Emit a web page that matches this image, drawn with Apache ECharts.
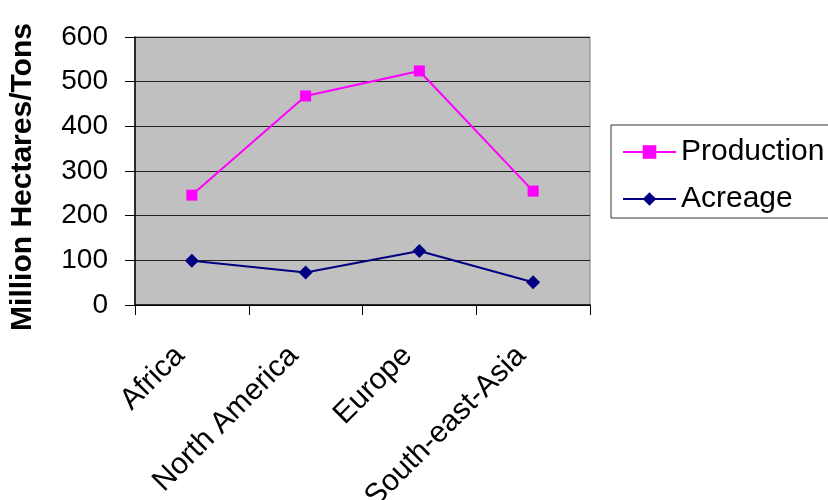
<!DOCTYPE html>
<html>
<head>
<meta charset="utf-8">
<script src="https://cdn.jsdelivr.net/npm/echarts@6/dist/echarts.min.js"></script>
<style>
html,body{margin:0;padding:0;background:#fff;}
#chart{width:828px;height:500px;}
</style>
</head>
<body>
<div id="chart"></div>
<script>
const categories = ['Africa', 'North America', 'Europe', 'South-east-Asia'];
const production = [246, 468, 524, 255];
const acreage = [99, 73, 121, 51];
const yTicks = { min: 0, max: 600, interval: 100 };

const chart = echarts.init(document.getElementById('chart'));
const font = 'Liberation Sans, Arial, sans-serif';
chart.setOption({
  animation: false,
  backgroundColor: '#ffffff',
  grid: {
    left: 135, right: 238, top: 37, bottom: 195,
    containLabel: false, outerBoundsMode: 'none',
    show: true, backgroundColor: '#c0c0c0', borderColor: '#808080', borderWidth: 1
  },
  legend: {
    left: 611, top: 125,
    orient: 'vertical',
    padding: [11, 40, 3, 11],
    itemGap: 15,
    itemWidth: 53, itemHeight: 17,
    borderColor: '#333', borderWidth: 1,
    backgroundColor: '#fff',
    textStyle: { fontFamily: font, fontSize: 30, color: '#000', lineHeight: 32 },
    data: ['Production', 'Acreage']
  },
  xAxis: {
    type: 'category',
    data: categories,
    boundaryGap: true,
    axisLine: { lineStyle: { color: '#000', width: 1.5 } },
    axisTick: { show: true, length: 10, lineStyle: { color: '#000' } },
    axisLabel: {
      rotate: 45, fontFamily: font, fontSize: 30, color: '#000',
      margin: 34, padding: [0, 17, 0, 0], interval: 0
    },
    splitLine: { show: false }
  },
  yAxis: {
    type: 'value',
    min: yTicks.min, max: yTicks.max, interval: yTicks.interval,
    name: 'Million Hectares/Tons',
    nameLocation: 'middle',
    nameGap: 97,
    nameTextStyle: { fontFamily: font, fontSize: 30, fontWeight: 'bold', color: '#000', padding: [0, 12, 0, 0] },
    axisLine: { show: true, lineStyle: { color: '#000', width: 1.5 } },
    axisTick: { show: true, length: 10, lineStyle: { color: '#000' } },
    axisLabel: { fontFamily: font, fontSize: 28, color: '#000', margin: 27 },
    splitLine: { show: true, lineStyle: { color: '#222', width: 1 } }
  },
  series: [
    {
      name: 'Production', type: 'line', data: production,
      symbol: 'rect', symbolSize: 11,
      itemStyle: { color: '#ff00ff' },
      lineStyle: { color: '#ff00ff', width: 2 }
    },
    {
      name: 'Acreage', type: 'line', data: acreage,
      symbol: 'diamond', symbolSize: 14,
      itemStyle: { color: '#000080' },
      lineStyle: { color: '#000080', width: 2 }
    }
  ]
});
</script>
</body>
</html>
